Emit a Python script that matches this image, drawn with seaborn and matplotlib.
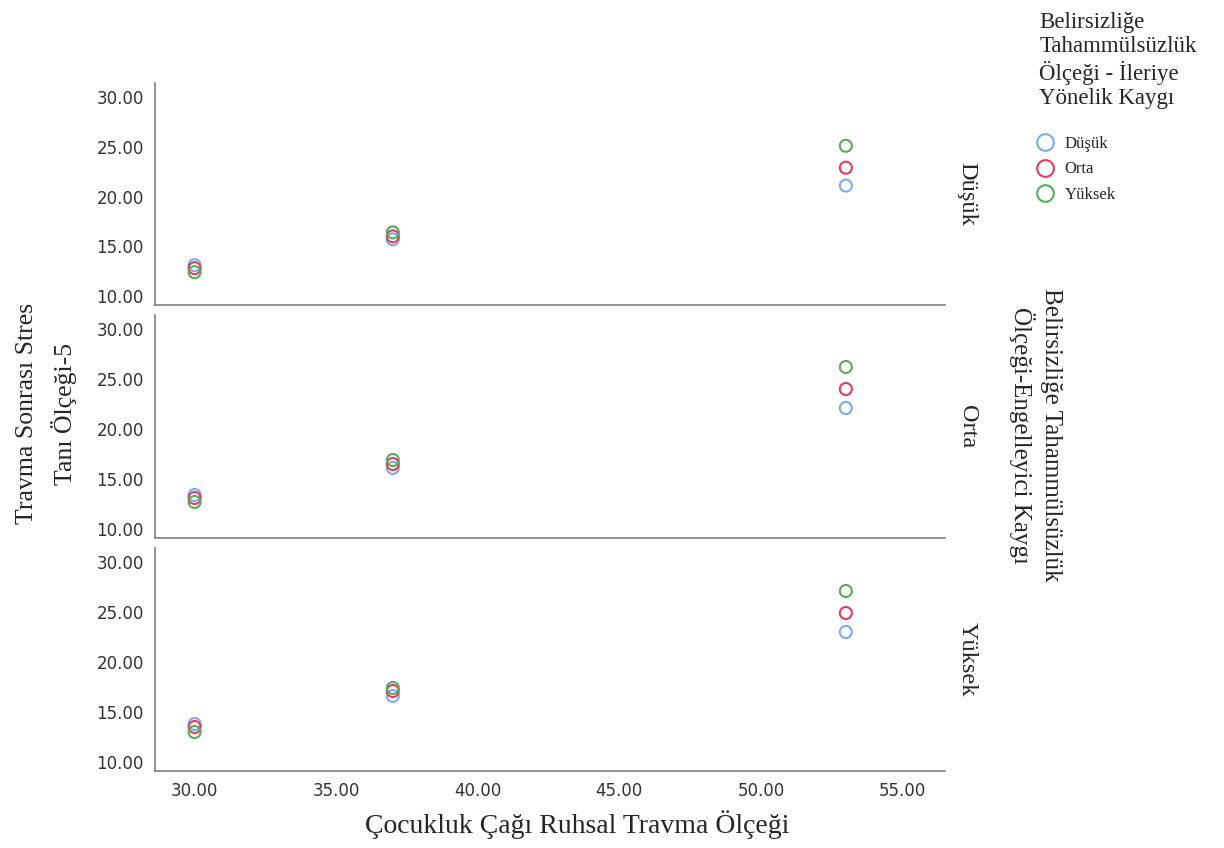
import pandas as pd
import matplotlib
matplotlib.use("Agg")
import matplotlib.pyplot as plt
from matplotlib.lines import Line2D
from matplotlib.ticker import FormatStrFormatter
import seaborn as sns

# Veriler
x_vals = [30.0, 37.0, 53.0]
levels = ["Düşük", "Orta", "Yüksek"]

# satır = Engelleyici Kaygı düzeyi, renk = İleriye Yönelik Kaygı düzeyi
y_dusuk_row = {"Düşük": [13.1, 15.7, 21.1], "Orta": [12.8, 16.0, 22.9], "Yüksek": [12.4, 16.4, 25.1]}
y_orta_row = {"Düşük": [13.4, 16.1, 22.1], "Orta": [13.1, 16.5, 24.0], "Yüksek": [12.7, 16.9, 26.2]}
y_yuksek_row = {"Düşük": [13.8, 16.6, 23.0], "Orta": [13.5, 17.1, 24.9], "Yüksek": [13.0, 17.4, 27.1]}

rows = {"Düşük": y_dusuk_row, "Orta": y_orta_row, "Yüksek": y_yuksek_row}
records = []
for row_name, series in rows.items():
    for hue_name, ys in series.items():
        for x, y in zip(x_vals, ys):
            records.append({"ctq": x, "pcl": y, "engel": row_name, "ileri": hue_name})
df = pd.DataFrame(records)

palette = {"Düşük": "#7aaef0", "Orta": "#e0405e", "Yüksek": "#5aab5a"}

sns.set_style("white")
serif = ["Liberation Serif", "DejaVu Serif"]
plt.rcParams["font.family"] = ["DejaVu Sans"]

fig = plt.figure(figsize=(12.24, 8.48), dpi=100)

positions = [
    (0.1266, 0.6403, 0.6454, 0.2617),
    (0.1266, 0.3656, 0.6454, 0.2629),
    (0.1266, 0.0908, 0.6454, 0.2630),
]

for i, (row_name, pos) in enumerate(zip(levels, positions)):
    ax = fig.add_axes(pos)
    sub = df[df["engel"] == row_name]
    sns.scatterplot(data=sub, x="ctq", y="pcl", hue="ileri", palette=palette,
                    hue_order=levels, s=75, facecolors="none", linewidth=1.5,
                    legend=False, ax=ax)
    # halka işaretler: kenar rengini paletten al
    coll = ax.collections[0]
    coll.set_edgecolors([palette[h] for h in sub["ileri"]])
    coll.set_facecolors("none")
    ax.set_xlim(28.6, 56.5)
    ax.set_ylim(9.1, 31.4)
    ax.set_yticks([10, 15, 20, 25, 30])
    ax.yaxis.set_major_formatter(FormatStrFormatter("%.2f"))
    ax.set_xticks([30, 35, 40, 45, 50, 55])
    ax.xaxis.set_major_formatter(FormatStrFormatter("%.2f"))
    ax.tick_params(length=0, labelsize=12, labelcolor="#333333", pad=8)
    if i < 2:
        ax.tick_params(labelbottom=False)
    for side in ["top", "right"]:
        ax.spines[side].set_visible(False)
    for side in ["left", "bottom"]:
        ax.spines[side].set_color("#808080")
        ax.spines[side].set_linewidth(1.2)
    ax.set_xlabel("")
    ax.set_ylabel("")
    ax.text(1.028, 0.5, row_name, transform=ax.transAxes, rotation=-90,
            ha="center", va="center", fontsize=17.5, family=serif)

fig.text(0.472, 0.028, "Çocukluk Çağı Ruhsal Travma Ölçeği", ha="center", va="center",
         fontsize=20, family=serif)
fig.text(0.038, 0.512, "Travma Sonrası Stres\nTanı Ölçeği-5", ha="center", va="center",
         rotation=90, fontsize=18.5, family=serif, linespacing=1.6)
fig.text(0.846, 0.487, "Belirsizliğe Tahammülsüzlük\nÖlçeği-Engelleyici Kaygı", ha="center",
         va="center", rotation=-90, fontsize=18, family=serif, linespacing=1.25)

fig.text(0.849, 0.986, "Belirsizliğe\nTahammülsüzlük\nÖlçeği - İleriye\nYönelik Kaygı",
         ha="left", va="top", fontsize=16.5, family=serif, linespacing=1.2)

handles = [Line2D([], [], linestyle="none", marker="o", markersize=12,
                  markerfacecolor="none", markeredgecolor=palette[h], markeredgewidth=1.5)
           for h in levels]
leg = fig.legend(handles, levels, loc="upper left", bbox_to_anchor=(0.833, 0.857),
                 frameon=False, prop={"family": serif, "size": 12},
                 handletextpad=0.6, labelspacing=0.55, handlelength=1.2)

fig.savefig("out.png", dpi=100)
